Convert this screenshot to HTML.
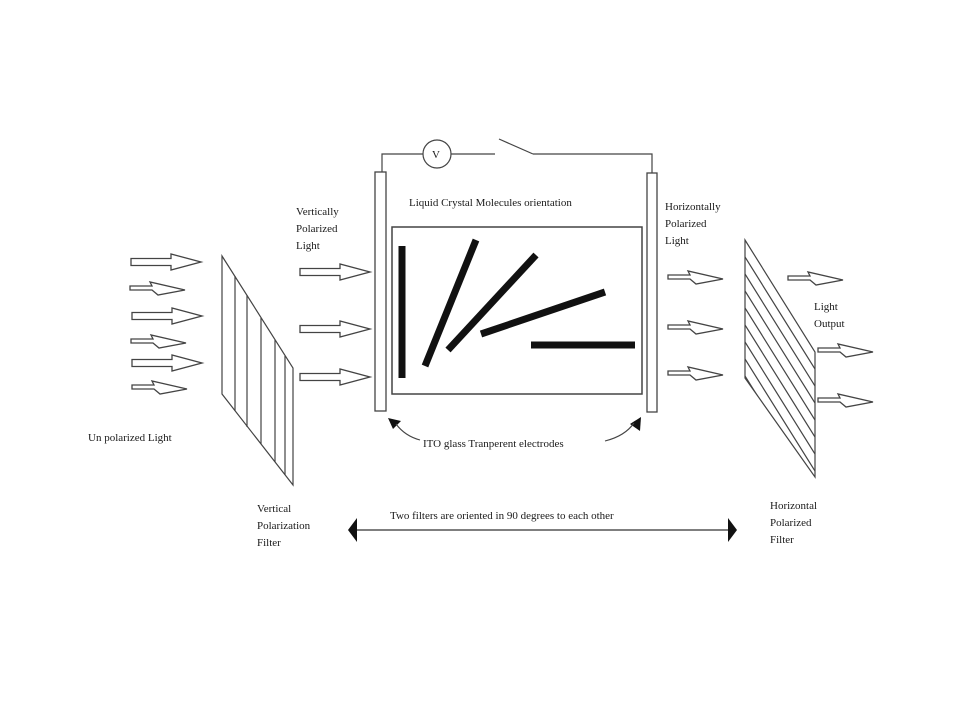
<!DOCTYPE html>
<html><head><meta charset="utf-8"><style>
html,body{margin:0;padding:0;background:#fff;}
svg{display:block;}
text{font-family:"Liberation Serif",serif;font-size:11px;fill:#1a1a1a;}
</style></head><body>
<svg width="960" height="720" viewBox="0 0 960 720" xmlns="http://www.w3.org/2000/svg">
<defs>
<g id="ar"><path d="M0,-3.5 H40 V-8 L70,0 L40,8 V3.5 H0 Z" fill="#fff" stroke="#444" stroke-width="1.3"/></g>
<g id="ta"><path d="M0,-2 H22 L20,-6 L55,2 L28,7 L22,2 H0 Z" fill="#fff" stroke="#444" stroke-width="1.3"/></g>
</defs>
<use href="#ar" x="131" y="262"/>
<use href="#ta" x="130" y="288"/>
<use href="#ar" x="132" y="316"/>
<use href="#ta" x="131" y="341"/>
<use href="#ar" x="132" y="363"/>
<use href="#ta" x="132" y="387"/>
<g stroke="#444" stroke-width="1.2" fill="none">
<path d="M222,256 L293,368 L293,485 L222,394 Z" fill="#fff"/>
<line x1="235" y1="276" x2="235" y2="411"/>
<line x1="247" y1="295" x2="247" y2="427"/>
<line x1="261" y1="318" x2="261" y2="444"/>
<line x1="275" y1="340" x2="275" y2="462"/>
<line x1="285" y1="356" x2="285" y2="475"/>
</g>
<text x="88" y="441">Un polarized Light</text>
<text x="257" y="512">Vertical</text>
<text x="257" y="529">Polarization</text>
<text x="257" y="546">Filter</text>
<text x="296" y="215">Vertically</text>
<text x="296" y="232">Polarized</text>
<text x="296" y="249">Light</text>
<use href="#ar" x="300" y="272"/>
<use href="#ar" x="300" y="329"/>
<use href="#ar" x="300" y="377"/>
<g stroke="#444" fill="#fff" stroke-width="1.3">
<rect x="375" y="172" width="11" height="239"/>
<rect x="647" y="173" width="10" height="239"/>
<rect x="392" y="227" width="250" height="167" stroke-width="1.5"/>
</g>
<g stroke="#444" fill="none" stroke-width="1.2">
<polyline points="382,172 382,154 423,154"/>
<circle cx="437" cy="154" r="14" fill="#fff"/>
<line x1="451" y1="154" x2="495" y2="154"/>
<line x1="499" y1="139" x2="533" y2="154"/>
<polyline points="533,154 652,154 652,173"/>
</g>
<text x="432" y="158" font-size="10">V</text>
<text x="409" y="206">Liquid Crystal Molecules orientation</text>
<g stroke="#111" stroke-width="7">
<line x1="402" y1="246" x2="402" y2="378"/>
<line x1="425" y1="366" x2="476" y2="240"/>
<line x1="448" y1="350" x2="536" y2="255"/>
<line x1="481" y1="334" x2="605" y2="292"/>
<line x1="531" y1="345" x2="635" y2="345"/>
</g>
<path d="M388,418 L401,421 L393,429 Z" fill="#111"/>
<path d="M641,417 L640,431 L630,424 Z" fill="#111"/>
<g stroke="#444" fill="none" stroke-width="1.1">
<path d="M396,424 Q405,436 420,440"/>
<path d="M634,423 Q625,436 605,441"/>
</g>
<text x="423" y="447">ITO glass Tranperent electrodes</text>
<text x="665" y="210">Horizontally</text>
<text x="665" y="227">Polarized</text>
<text x="665" y="244">Light</text>
<use href="#ta" x="668" y="277"/>
<use href="#ta" x="668" y="327"/>
<use href="#ta" x="668" y="373"/>
<g stroke="#444" fill="none" stroke-width="1.2">
<path d="M745,240 L815,352 L815,477 L745,378 Z" fill="#fff"/>
<clipPath id="cp"><path d="M745,240 L815,352 L815,477 L745,378 Z"/></clipPath>
<g clip-path="url(#cp)">
<line x1="745" y1="257" x2="815" y2="369"/>
<line x1="745" y1="274" x2="815" y2="386"/>
<line x1="745" y1="291" x2="815" y2="403"/>
<line x1="745" y1="308" x2="815" y2="420"/>
<line x1="745" y1="325" x2="815" y2="437"/>
<line x1="745" y1="342" x2="815" y2="454"/>
<line x1="745" y1="359" x2="815" y2="471"/>
<line x1="745" y1="376" x2="815" y2="488"/>
</g>
</g>
<use href="#ta" x="788" y="278"/>
<use href="#ta" x="818" y="350"/>
<use href="#ta" x="818" y="400"/>
<text x="814" y="310">Light</text>
<text x="814" y="327">Output</text>
<text x="770" y="509">Horizontal</text>
<text x="770" y="526">Polarized</text>
<text x="770" y="543">Filter</text>
<line x1="356" y1="530" x2="728" y2="530" stroke="#333" stroke-width="1.2"/>
<path d="M348,530 L357,518 L357,542 Z" fill="#111"/>
<path d="M737,530 L728,518 L728,542 Z" fill="#111"/>
<text x="390" y="519">Two filters are oriented in 90 degrees to each other</text>
</svg>
</body></html>
